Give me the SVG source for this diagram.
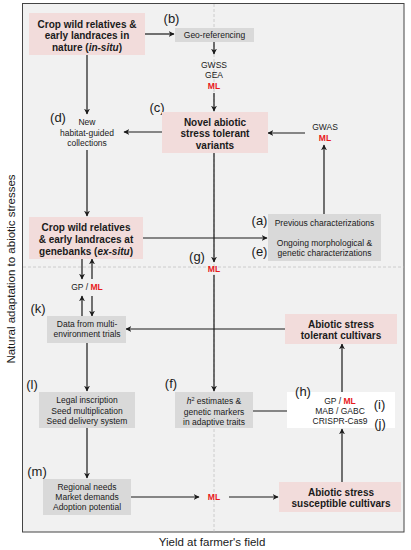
<svg xmlns="http://www.w3.org/2000/svg" width="411" height="550" viewBox="0 0 411 550">
<defs>
<marker id="ah" viewBox="0 0 10 10" refX="9" refY="5" markerWidth="6" markerHeight="6" orient="auto" markerUnits="userSpaceOnUse">
<path d="M0,0 L10,5 L0,10 L3,5 z" fill="#1a1a1a"/>
</marker>
<style>
.pink{fill:#f2dcdb}
.gray{fill:#d9d9d9}
.white{fill:#ffffff}
.b{font-family:"Liberation Sans",Arial,sans-serif;font-weight:bold;font-size:10px;fill:#1a1a1a;text-anchor:middle}
.s{font-family:"Liberation Sans",Arial,sans-serif;font-size:8.5px;fill:#1a1a1a;text-anchor:middle}
.ml{font-family:"Liberation Sans",Arial,sans-serif;font-size:8.5px;font-weight:bold;fill:#e8191c;text-anchor:middle}
.lab{font-family:"Liberation Sans",Arial,sans-serif;font-size:13px;fill:#1a1a1a;text-anchor:middle}
.ax{font-family:"Liberation Sans",Arial,sans-serif;font-size:11.5px;fill:#1a1a1a;text-anchor:middle}
.c{fill:none;stroke:#1a1a1a;stroke-width:1.2}
.a{marker-end:url(#ah)}
.dash{fill:none;stroke:#c4c4c4;stroke-width:0.8;stroke-dasharray:3 2}
</style>
</defs>
<rect x="22.5" y="3.5" width="381.5" height="528.5" fill="#f1f1f1" stroke="#444" stroke-width="1"/>
<line class="dash" x1="23" y1="267" x2="403.5" y2="267"/>
<line class="dash" x1="214" y1="4" x2="214" y2="531.5"/>

<g id="connectors">
<line class="c a" x1="145" y1="34" x2="174" y2="34"/>
<line class="c a" x1="214" y1="42" x2="214" y2="54"/>
<line class="c a" x1="214" y1="93" x2="214" y2="111"/>
<line class="c a" x1="87" y1="55" x2="87" y2="114"/>
<line class="c a" x1="162" y1="132" x2="124" y2="132"/>
<line class="c a" x1="87" y1="150" x2="87" y2="216"/>
<line class="c a" x1="143" y1="238" x2="267" y2="238"/>
<line class="c a" x1="324" y1="214" x2="324" y2="145"/>
<line class="c a" x1="305" y1="133" x2="268" y2="133"/>
<line class="c a" x1="214" y1="153" x2="214" y2="262"/>
<line class="c a" x1="214" y1="275" x2="214" y2="391"/>
<line class="c a" x1="253" y1="411" x2="305" y2="411"/>
<line class="c a" x1="342" y1="392" x2="342" y2="344"/>
<line class="c a" x1="285" y1="329" x2="126" y2="329"/>
<line class="c a" x1="82" y1="259" x2="82" y2="279"/>
<line class="c a" x1="92" y1="279" x2="92" y2="259"/>
<line class="c a" x1="82" y1="316" x2="82" y2="296"/>
<line class="c a" x1="92" y1="296" x2="92" y2="316"/>
<line class="c a" x1="87" y1="343" x2="87" y2="391"/>
<line class="c a" x1="87" y1="428" x2="87" y2="478"/>
<line class="c a" x1="131" y1="497" x2="199" y2="497"/>
<line class="c a" x1="229" y1="497" x2="278" y2="497"/>
<line class="c a" x1="342" y1="482" x2="342" y2="429"/>
</g>

<g id="insitu">
<rect class="pink" x="29" y="13" width="116" height="42"/>
<text class="b" x="87" y="27.5">Crop wild relatives &amp;</text>
<text class="b" x="87" y="39">early landraces in</text>
<text class="b" x="87" y="50.5">nature (<tspan font-style="italic">in-situ</tspan>)</text>
</g>
<g id="georef">
<text class="lab" x="171.5" y="23">(b)</text>
<rect class="gray" x="175" y="28" width="79" height="14"/>
<text class="s" x="214.5" y="38">Geo-referencing</text>
</g>
<g id="gwss">
<text class="s" x="214" y="68">GWSS</text>
<text class="s" x="214" y="78">GEA</text>
<text class="ml" x="214" y="89">ML</text>
</g>
<g id="novel">
<text class="lab" x="157" y="111.5">(c)</text>
<rect class="pink" x="162" y="112" width="106" height="41"/>
<text class="b" x="215" y="125.5">Novel abiotic</text>
<text class="b" x="215" y="137">stress tolerant</text>
<text class="b" x="215" y="148.5">variants</text>
</g>
<g id="collections">
<text class="lab" x="58" y="122">(d)</text>
<text class="s" x="87" y="125">New</text>
<text class="s" x="87" y="136">habitat-guided</text>
<text class="s" x="87" y="146">collections</text>
</g>
<g id="gwas">
<text class="s" x="325" y="130">GWAS</text>
<text class="ml" x="325" y="140.5">ML</text>
</g>
<g id="exsitu">
<rect class="pink" x="29" y="217" width="114" height="42"/>
<text class="b" x="86" y="230.5">Crop wild relatives</text>
<text class="b" x="86" y="242.5">&amp; early landraces at</text>
<text class="b" x="86" y="254.5">genebanks (<tspan font-style="italic">ex-situ</tspan>)</text>
</g>
<g id="characterizations">
<rect class="gray" x="268" y="214" width="113" height="47"/>
<text class="lab" x="259.5" y="225">(a)</text>
<text class="lab" x="259.5" y="256">(e)</text>
<text class="s" x="324.5" y="226">Previous characterizations</text>
<text class="s" x="324.5" y="246">Ongoing morphological &amp;</text>
<text class="s" x="324.5" y="256">genetic characterizations</text>
</g>
<g id="ml-g">
<text class="lab" x="197" y="261">(g)</text>
<text class="ml" x="214" y="272">ML</text>
</g>
<g id="gp-ml">
<text class="s" x="87" y="290">GP / <tspan class="ml" style="text-anchor:start">ML</tspan></text>
</g>
<g id="data">
<text class="lab" x="38" y="313">(k)</text>
<rect class="gray" x="47" y="316" width="79" height="27"/>
<text class="s" x="87" y="327">Data from multi-</text>
<text class="s" x="87" y="337">environment trials</text>
</g>
<g id="tolerant">
<rect class="pink" x="285" y="314" width="112" height="30"/>
<text class="b" x="341" y="327.5">Abiotic stress</text>
<text class="b" x="341" y="338.5">tolerant cultivars</text>
</g>
<g id="legal">
<text class="lab" x="32" y="389">(l)</text>
<rect class="gray" x="39" y="392" width="96" height="36"/>
<text class="s" x="87" y="403">Legal inscription</text>
<text class="s" x="87" y="414">Seed multiplication</text>
<text class="s" x="87" y="424">Seed delivery system</text>
</g>
<g id="heritability">
<text class="lab" x="171" y="388">(f)</text>
<rect class="gray" x="175" y="392" width="78" height="36"/>
<text class="s" x="214" y="404"><tspan font-style="italic">h</tspan><tspan font-size="5.5px" dy="-3">2</tspan><tspan dy="3"> estimates &amp;</tspan></text>
<text class="s" x="214" y="415">genetic markers</text>
<text class="s" x="214" y="425">in adaptive traits</text>
</g>
<g id="breeding">
<rect class="white" x="287" y="392" width="108" height="36"/>
<text class="lab" x="303" y="396">(h)</text>
<text class="s" x="340" y="404">GP / <tspan class="ml" style="text-anchor:start">ML</tspan></text>
<text class="s" x="340" y="414">MAB / GABC</text>
<text class="s" x="340" y="424">CRISPR-Cas9</text>
<text class="lab" x="379.5" y="409">(i)</text>
<text class="lab" x="380" y="428">(j)</text>
</g>
<g id="regional">
<text class="lab" x="37" y="476">(m)</text>
<rect class="gray" x="43" y="479" width="88" height="36"/>
<text class="s" x="87" y="490">Regional needs</text>
<text class="s" x="87" y="500">Market demands</text>
<text class="s" x="87" y="510">Adoption potential</text>
</g>
<g id="ml-m">
<text class="ml" x="214" y="500">ML</text>
</g>
<g id="susceptible">
<rect class="pink" x="279" y="482" width="122" height="30"/>
<text class="b" x="341" y="495.5">Abiotic stress</text>
<text class="b" x="341" y="506.5">susceptible cultivars</text>
</g>
<g id="axes">
<text class="ax" transform="translate(14.5,269) rotate(-90)">Natural adaptation to abiotic stresses</text>
<text class="ax" x="212" y="546">Yield at farmer's field</text>
</g>
</svg>
